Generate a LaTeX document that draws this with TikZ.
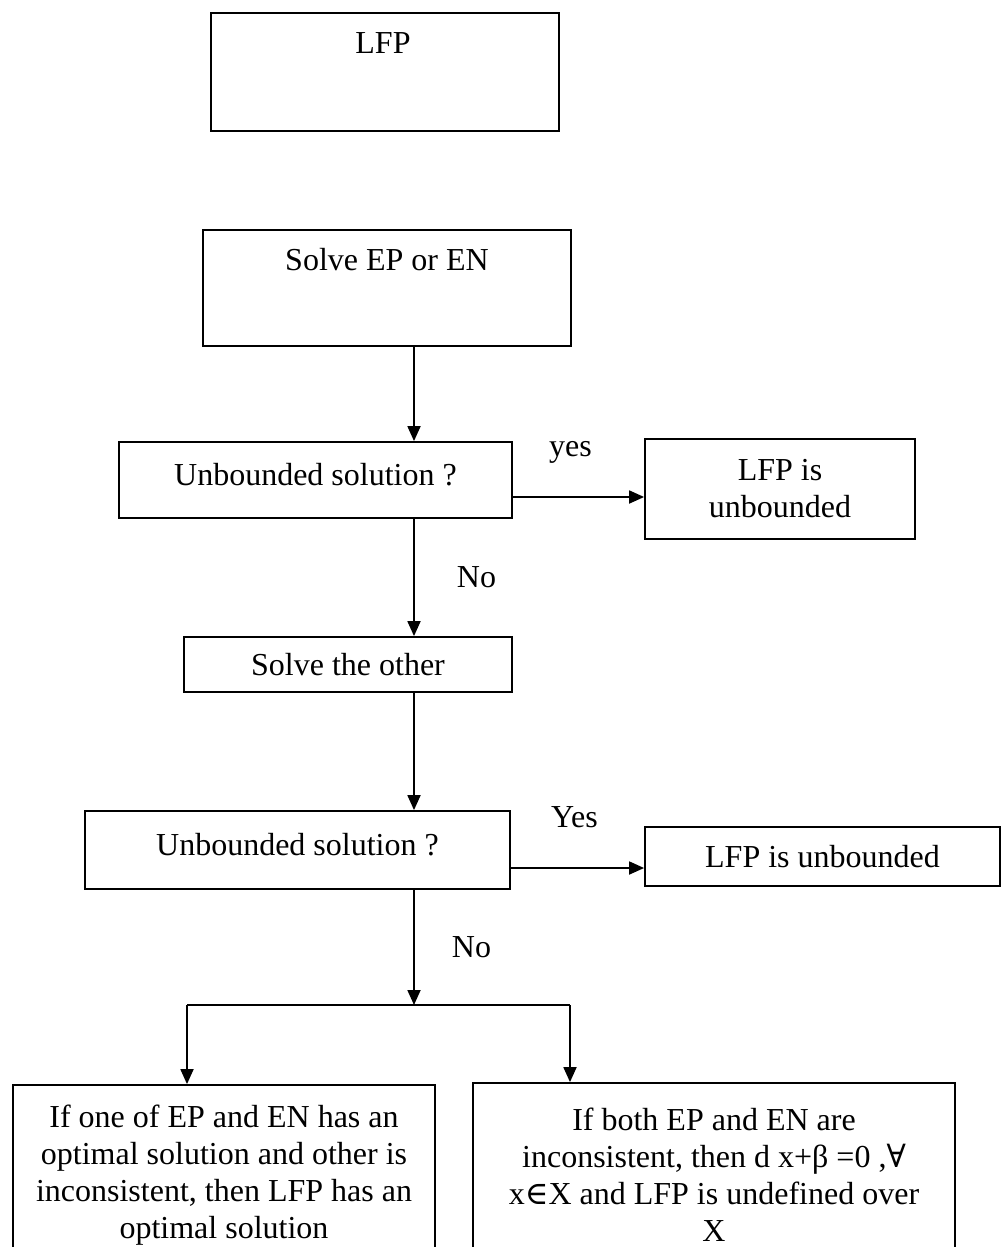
\documentclass[tikz,border=0pt]{standalone}
\usepackage{fontspec}
\setmainfont{Liberation Serif}
\newfontfamily\symf{DejaVu Serif}
\usetikzlibrary{positioning,arrows.meta}

\newcommand{\unbq}{Unbounded solution ?}

\begin{document}
\begin{tikzpicture}[x=1pt,y=-1pt,
    box/.style={draw, line width=1.8pt, align=center, inner sep=0pt},
    arr/.style={line width=1.8pt, -{Triangle[length=15pt,width=13pt]}},
    lbl/.style={inner sep=0pt},
    font=\fontsize{32}{37}\selectfont]
    \useasboundingbox (0,0) rectangle (1002,1247);
    \clip (0,0) rectangle (1002,1247);
    \coordinate (col) at (414,0);
    \node[box, minimum width=348pt, minimum height=118pt] (lfp) at (385,72) {};
    \node[lbl, below=20pt of lfp.north, xshift=-2pt] (lfptxt) {LFP};
    \node[box, minimum width=368pt, minimum height=116pt] (solve) at (387,288) {};
    \node[lbl, below=19pt of solve.north] (solvetxt) {Solve EP or EN};
    \node[box, minimum width=393pt, minimum height=76pt, text depth=12pt] (ub1) at (315.5,480) {\unbq};
    \draw[arr] (solve.south -| col) -- (ub1.north -| col);
    \node[box, minimum width=270pt, minimum height=100pt] (lfpu1) at (780,489) {LFP is\\unbounded};
    \draw[arr] ([yshift=-17pt]ub1.east) -- node[lbl, above=33pt, xshift=-8pt] (yes1) {yes} ([yshift=-17pt]ub1.east -| lfpu1.west);
    \node[box, minimum width=328pt, minimum height=55pt] (other) at (348,664.5) {Solve the other};
    \draw[arr] (ub1.south -| col) -- node[lbl, right=42pt] (no1) {No} (other.north -| col);
    \node[box, minimum width=425pt, minimum height=78pt, text depth=12pt] (ub2) at (297.5,850) {\unbq};
    \draw[arr] (other.south -| col) -- (ub2.north -| col);
    \node[box, minimum width=355pt, minimum height=59pt] (lfpu2) at (822.5,856.5) {LFP is unbounded};
    \draw[arr] ([yshift=-18pt]ub2.east) -- node[lbl, above=39pt, xshift=-3pt] (yes2) {Yes} ([yshift=-18pt]ub2.east -| lfpu2.west);
    \coordinate (fork) at (414,1005);
    \coordinate (forkl) at (187,1005);
    \coordinate (forkr) at (570,1005);
    \draw[arr] (ub2.south -| col) -- node[lbl, right=37pt] (no2) {No} (fork);
    \draw[line width=1.8pt] (forkl) -- (forkr);
    \node[box, minimum width=422pt, minimum height=180pt] (opt) at (224,1175)
      {If one of EP and EN has an\\optimal solution and other is\\inconsistent, then LFP has an\\optimal solution};
    \node[box, minimum width=482pt, minimum height=184pt] (undef) at (714,1175)
      {If both EP and EN are\\inconsistent, then d x+β =0 ,{\symf ∀}\\x{\symf ∈}X and LFP is undefined over\\X};
    \draw[arr] (forkl) -- (opt.north -| forkl);
    \draw[arr] (forkr) -- (undef.north -| forkr);
\end{tikzpicture}
\end{document}
